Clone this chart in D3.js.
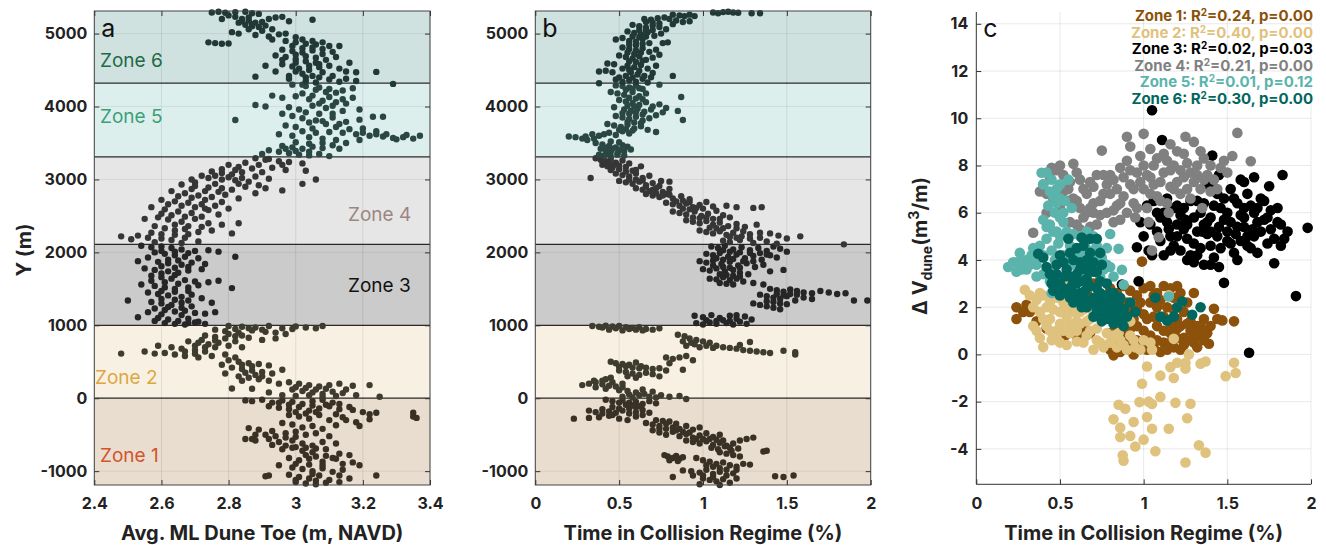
<!DOCTYPE html>
<html>
<head>
<meta charset="utf-8">
<title>Dune toe / collision regime</title>
<script src="https://cdn.jsdelivr.net/npm/d3@7"></script>
<style>
  body { margin: 0; background: #fff; }
  text { font-family: Inter, Helvetica, Arial, sans-serif; }
</style>
</head>
<body>
<svg id="chart" width="1326" height="545"></svg>
<script>
// ---- zones ----
const zoneNames = ["Zone 1", "Zone 2", "Zone 3", "Zone 4", "Zone 5", "Zone 6"];
const zoneEdges = [-1190, 0, 1000, 2110, 3310, 4320, 5310];
const bandColors = ["#e8ddcf", "#f8f1e3", "#cbcbcb", "#e6e6e6", "#dcefed", "#cfe2df"];
const zoneLabelColors = ["#d4532a", "#dca73f", "#111111", "#9c8582", "#3c9f78", "#1d6a47"];
const stripDotColors = ["#3a3126", "#3e3b2f", "#262626", "#363636", "#2b4744", "#213936"];
const scatterColors = ["#8c510a", "#dfc27d", "#000000", "#808080", "#5ab4ac", "#01665e"];

// ---- tick labels ----
const yTicks = [-1000, 0, 1000, 2000, 3000, 4000, 5000];
const toeTicks = [2.4, 2.6, 2.8, 3, 3.2, 3.4];
const collTicks = [0, 0.5, 1, 1.5, 2];
const dvTicks = [-4, -2, 0, 2, 4, 6, 8, 10, 12, 14];

// ---- regression stats (panel c legend) ----
const r2Values = ["0.24", "0.40", "0.02", "0.21", "0.01", "0.30"];
const pValues = ["0.00", "0.00", "0.03", "0.00", "0.12", "0.00"];

// ---- panel a: [avg ML dune toe, Y] ----
const toeZ1 = [[2.85,-30],[2.87,-40],[2.90,-20],[2.93,-60],[2.96,-30],[2.99,-50],[3.02,-80],[3.05,-40],[3.08,-20],[3.11,-60],
 [2.92,-110],[2.95,-130],[2.98,-150],[3.01,-120],[3.04,-170],[3.07,-140],[3.10,-110],[3.13,-150],
 [3.17,-160],[3.20,-190],[3.22,-220],[3.24,-200],[3.35,-200],[3.35,-250],[3.36,-270],
 [2.98,-230],[3.01,-250],[3.04,-280],[3.07,-230],[3.10,-300],[3.14,-260],[3.18,-330],[3.22,-290],[3.19,-380],
 [2.96,-340],[2.99,-360],[3.02,-400],[3.05,-380],[3.08,-420],[3.12,-370],
 [2.86,-410],[2.89,-430],[2.93,-450],[2.97,-480],[3.00,-460],[3.03,-500],[3.06,-480],[3.10,-520],
 [2.85,-560],[2.88,-580],[2.92,-560],[2.95,-600],[2.99,-580],[3.02,-620],[3.05,-650],[3.08,-600],[3.12,-620],
 [2.96,-700],[2.99,-680],[3.02,-720],[3.05,-740],[3.09,-700],[3.13,-760],[3.16,-780],
 [2.98,-820],[3.01,-850],[3.04,-830],[3.08,-870],[3.11,-820],[3.14,-900],[3.17,-880],[3.19,-920],
 [2.95,-920],[2.99,-950],[3.02,-970],[3.05,-1000],[3.08,-960],[3.11,-1010],[3.14,-980],
 [2.92,-1060],[2.98,-1050],[3.01,-1080],[3.04,-1100],[3.07,-1060],[3.10,-1120],[3.24,-1060],
 [3.00,-1150],[3.03,-1170],[3.06,-1180],[3.09,-1160],
 [2.95,-60],[2.98,-90],[3.05,-100],[3.09,-90],[3.13,-80],[3.16,-120],[3.00,-190],[3.03,-210],[3.06,-190],[3.12,-220],[3.15,-300],
 [2.91,-500],[2.94,-520],[2.97,-540],[3.00,-530],[2.88,-500],[2.93,-640],[2.97,-650],[3.00,-670],[3.03,-680],[3.06,-690],
 [3.03,-780],[3.06,-800],[3.09,-790],[3.12,-830],[3.00,-900],[3.04,-910],[3.08,-920],[3.05,-1040],[3.13,-1060],[3.00,-1120],
 [3.06,-1130],[3.16,-1100],[3.13,-1150],[2.91,-1070],[2.87,-560]];
const toeZ2 = [[2.80,990],[2.84,980],[2.88,970],[2.92,990],[2.96,960],[2.99,950],[3.00,985],[3.03,970],[3.06,960],[3.08,990],
 [2.76,940],[2.79,920],[2.83,900],[2.87,930],[2.91,910],[2.94,900],[2.97,880],
 [2.73,860],[2.76,840],[2.79,820],[2.82,850],[2.86,830],[2.90,800],[2.94,820],
 [2.68,780],[2.71,760],[2.74,740],[2.77,760],[2.80,720],[2.84,700],
 [2.63,700],[2.66,680],[2.70,660],[2.73,640],[2.76,700],[2.59,720],[2.55,640],
 [2.48,612],[2.58,612],[2.61,620],[2.64,600],[2.67,580],[2.71,560],[2.75,580],[2.79,600],[2.82,560],
 [2.80,520],[2.83,500],[2.86,480],[2.89,470],[2.92,450],[2.78,460],
 [2.81,420],[2.84,400],[2.87,380],[2.90,360],[2.93,340],[2.96,390],[2.79,340],
 [2.83,300],[2.86,280],[2.89,260],[2.92,240],[2.95,200],[2.81,133],[2.87,130],
 [2.98,220],[3.01,200],[3.04,180],[3.07,160],[3.10,180],[3.13,200],[3.17,170],[3.22,180],
 [2.99,120],[3.02,100],[3.05,80],[3.08,60],[3.11,90],[3.14,70],[3.18,40],[3.25,20],[2.96,40],[3.00,30],
 [2.82,950],[2.86,960],[2.90,940],[2.80,880],[2.84,860],[2.72,800],[2.76,790],[2.82,780],[2.70,720],[2.73,700],[2.67,640],[2.70,610],
 [2.84,460],[2.87,440],[2.85,350],[2.88,320],[2.84,240],[2.90,300],[3.00,150],[3.03,140],[3.06,120],[3.09,130],[3.15,120],
 [3.04,40],[3.08,20],[3.12,30],[2.92,80]];
const toeZ3 = [[2.54,2090],[2.57,2070],[2.60,2080],[2.63,2060],[2.66,2040],[2.70,2020],[2.74,2030],[2.77,2010],
 [2.58,2000],[2.61,1980],[2.64,1960],[2.67,1940],[2.71,1920],[2.82,1940],[2.56,1930],
 [2.53,1880],[2.59,1870],[2.62,1850],[2.66,1830],[2.69,1860],[2.73,1840],
 [2.55,1780],[2.58,1760],[2.62,1740],[2.65,1720],[2.68,1750],[2.72,1770],
 [2.57,1680],[2.60,1660],[2.63,1640],[2.67,1620],[2.70,1600],[2.74,1590],[2.77,1610],
 [2.54,1560],[2.58,1540],[2.61,1520],[2.64,1500],[2.68,1520],[2.81,1510],
 [2.56,1450],[2.59,1430],[2.62,1410],[2.66,1390],[2.69,1420],[2.72,1370],
 [2.50,1340],[2.57,1320],[2.60,1300],[2.63,1280],[2.66,1310],[2.69,1260],
 [2.58,1230],[2.61,1210],[2.64,1190],[2.67,1200],[2.70,1170],[2.73,1160],[2.76,1180],
 [2.53,1110],[2.59,1100],[2.62,1080],[2.65,1060],[2.68,1090],[2.71,1050],
 [2.61,1030],[2.64,1020],[2.67,1010],[2.70,1040],[2.73,1020],
 [2.60,2020],[2.64,2010],[2.68,1990],[2.62,1900],[2.65,1890],[2.60,1810],[2.64,1790],[2.68,1800],[2.60,1710],[2.64,1690],
 [2.57,1610],[2.61,1590],[2.65,1570],[2.71,1550],[2.60,1470],[2.64,1460],[2.68,1470],[2.60,1360],[2.64,1350],[2.68,1340],
 [2.62,1250],[2.66,1240],[2.56,1180],[2.60,1150],[2.66,1140],[2.68,1030],[2.58,1060],[2.75,1310]];
const toeZ4 = [[2.88,3290],[2.91,3270],[2.95,3250],[2.98,3240],[3.02,3220],[2.85,3230],
 [2.80,3200],[2.83,3170],[2.87,3150],[2.93,3160],[2.97,3130],[3.03,3120],
 [2.75,3110],[2.78,3090],[2.81,3070],[2.84,3100],[2.88,3040],[2.72,3050],[2.69,3000],[2.74,3020],[2.78,3000],[2.82,2990],[2.86,2970],[3.06,3000],[3.02,2940],
 [2.66,2930],[2.70,2910],[2.74,2890],[2.78,2880],[2.81,2860],[2.85,2900],[2.89,2920],[2.91,2880],[2.96,2850],
 [2.63,2840],[2.67,2810],[2.71,2780],[2.75,2760],[2.79,2790],[2.83,2740],
 [2.60,2720],[2.64,2700],[2.68,2680],[2.72,2660],[2.76,2640],[2.80,2600],
 [2.57,2620],[2.61,2590],[2.65,2560],[2.69,2540],[2.73,2600],[2.77,2520],[2.55,2460],
 [2.59,2480],[2.62,2450],[2.66,2420],[2.70,2460],[2.74,2400],[2.78,2380],[2.83,2400],
 [2.58,2360],[2.61,2330],[2.64,2300],[2.67,2320],[2.71,2280],[2.75,2300],[2.81,2260],
 [2.53,2230],[2.56,2200],[2.60,2190],[2.63,2170],[2.67,2200],[2.71,2150],[2.48,2220],[2.51,2180],
 [2.92,3280],[2.96,3200],[2.89,3200],[2.78,3140],[2.82,3130],[2.90,3100],[2.76,3050],[2.80,3030],[2.84,3020],[2.92,3010],
 [2.70,2960],[2.76,2940],[2.83,2940],[2.69,2870],[2.73,2840],[2.77,2830],[2.65,2770],[2.69,2750],[2.73,2720],[2.62,2660],
 [2.66,2640],[2.70,2620],[2.74,2580],[2.60,2530],[2.63,2510],[2.67,2490],[2.72,2490],[2.64,2380],[2.68,2360],[2.72,2350],
 [2.57,2270],[2.60,2250],[2.64,2240],[2.68,2250],[2.58,2140],[2.66,2130],[2.78,2690],[2.88,2810]];
const toeZ5 = [[2.99,4300],[3.03,4280],[3.07,4260],[3.10,4240],[3.14,4220],[3.17,4250],[3.12,4190],
 [2.93,4150],[2.96,4120],[3.00,4140],[3.04,4100],[3.08,4080],[3.12,4060],[3.17,4120],
 [2.88,4020],[2.91,4000],[2.98,3990],[3.01,3960],[3.05,4010],[3.09,3980],[3.14,3940],[3.19,3960],
 [2.82,3815],[2.96,3900],[2.99,3870],[3.02,3840],[3.06,3810],[3.11,3850],[3.15,3790],[3.19,3820],[3.23,3860],[3.26,3860],
 [2.97,3740],[3.00,3720],[3.05,3700],[3.09,3760],[3.12,3720],[3.16,3690],[3.20,3700],[3.24,3660],
 [3.14,3640],[3.18,3620],[3.22,3600],[3.26,3590],[3.29,3570],[3.32,3580],[3.35,3560],[3.37,3600],[3.27,3620],[3.30,3550],
 [2.95,3620],[2.99,3600],[3.04,3580],[3.08,3560],[3.12,3540],
 [2.96,3460],[2.99,3440],[3.02,3420],[3.05,3450],[3.08,3430],[3.11,3470],
 [2.92,3400],[2.95,3380],[2.98,3360],[3.01,3340],[3.04,3380],[3.07,3350],[3.10,3320],
 [3.02,4300],[3.06,4230],[3.09,4200],[3.02,4180],[3.05,4150],[3.10,4130],[3.14,4100],[3.07,4040],[3.11,4010],[3.15,4040],
 [3.03,3920],[3.07,3900],[3.11,3900],[3.04,3780],[3.08,3800],[3.13,3760],[3.02,3660],[3.06,3640],[3.10,3650],[3.20,3640],
 [3.24,3620],[3.33,3610],[3.00,3510],[3.04,3490],[3.08,3500],[3.15,3500],[3.19,3540],[2.97,3420],[3.00,3390],[3.13,3420],
 [3.04,3330],[2.90,3350]];
const toeZ6 = [[2.75,5290],[2.77,5300],[2.79,5285],[2.82,5295],[2.85,5300],[2.87,5280],[2.89,5270],
 [2.82,5230],[2.84,5200],[2.86,5180],[2.88,5150],[2.85,5120],[2.87,5100],[2.89,5090],[2.91,5110],[2.83,5150],[2.86,5060],[2.90,5040],[2.92,5200],[2.94,5220],[2.96,5230],[2.98,5170],[3.05,5190],
 [2.81,5020],[2.83,5000],[2.88,4980],[2.92,4960],[2.95,4990],[2.93,4920],
 [2.74,4880],[2.76,4870],[2.78,4860],[2.80,4865],
 [2.97,4900],[3.00,4880],[3.03,4860],[3.06,4850],[3.10,4830],[3.13,4830],
 [2.96,4780],[2.99,4760],[3.02,4740],[3.05,4770],[3.08,4720],[3.11,4750],
 [2.94,4700],[2.97,4680],[3.00,4650],[3.03,4620],[3.06,4600],[3.09,4640],[3.12,4680],
 [2.96,4580],[2.99,4550],[3.01,4520],[3.04,4500],[3.07,4540],[3.02,4450],[3.05,4420],[3.08,4470],[3.15,4480],[3.18,4470],[3.24,4475],
 [2.88,4410],[2.98,4380],[3.03,4350],[3.06,4330],[3.10,4370],[3.13,4340],[3.29,4310],[2.94,4480],[3.00,4600],[2.91,4560],
 [2.84,5170],[2.87,5130],[2.90,5160],[2.86,5220],[2.80,5250],[2.78,5200],[2.93,5060],[2.97,5000],[3.00,4950],[3.02,4920],
 [3.05,4900],[3.08,4880],[2.99,4830],[3.02,4800],[3.05,4810],[3.08,4790],[3.00,4710],[3.03,4690],[3.06,4670],[3.04,4560],
 [3.07,4580],[3.10,4560],[3.00,4480],[3.03,4400],[3.07,4400],[3.11,4420],[2.98,4420],[3.15,4380],[3.18,4350],[3.13,4520],
 [3.16,4600],[2.96,4640]];

// ---- panel b: [time in collision regime %, Y] ----
const collZ1 = [[0.42,-20],[0.46,-40],[0.52,-30],[0.56,-60],[0.60,-50],[0.64,-80],[0.68,-40],[0.72,-70],
 [0.32,-170],[0.36,-190],[0.40,-150],[0.44,-180],[0.48,-200],[0.52,-170],[0.56,-140],[0.60,-120],[0.64,-160],[0.68,-200],
 [0.23,-280],[0.32,-270],[0.38,-260],[0.44,-240],[0.50,-280],[0.55,-300],[0.60,-250],[0.64,-230],
 [0.66,-340],[0.70,-360],[0.74,-380],[0.78,-350],[0.82,-400],[0.86,-420],[0.90,-380],[0.94,-430],[0.98,-400],
 [0.70,-440],[0.74,-470],[0.78,-500],[0.82,-460],[0.86,-520],[0.90,-490],[0.94,-540],[0.98,-510],[1.02,-480],[1.06,-530],[1.10,-500],
 [0.90,-580],[0.94,-600],[0.98,-620],[1.02,-590],[1.06,-640],[1.10,-610],[1.14,-650],[1.18,-620],[1.22,-580],[1.26,-560],[1.30,-540],
 [1.05,-680],[1.09,-700],[1.13,-660],[1.17,-720],[1.21,-690],[1.36,-730],[1.38,-720],
 [0.77,-780],[0.79,-800],[0.82,-820],[0.84,-790],[0.86,-830],[0.88,-810],[0.80,-850],[0.85,-860],
 [0.96,-820],[1.00,-850],[1.04,-870],[1.08,-900],[1.12,-880],[1.16,-920],[1.20,-940],[1.24,-900],[1.28,-910],
 [0.88,-990],[0.93,-1000],[0.98,-1020],[1.02,-980],[1.06,-1040],[1.10,-1010],[1.14,-1060],[1.18,-1030],
 [0.82,-1080],[1.00,-1100],[1.04,-1120],[1.08,-1140],[1.12,-1110],[1.16,-1160],[0.98,-1180],[1.43,-1070],[1.48,-1080],[1.54,-1060],
 [0.50,-60],[0.54,-90],[0.58,-100],[0.62,-110],[0.46,-120],[0.50,-140],[0.40,-210],[0.46,-230],[0.56,-210],[0.60,-190],
 [0.72,-300],[0.76,-310],[0.80,-320],[0.84,-350],[0.74,-420],[0.78,-420],[0.84,-440],[0.88,-460],[0.92,-470],[0.96,-560],
 [1.00,-560],[1.04,-560],[1.08,-570],[1.12,-580],[1.16,-680],[1.10,-740],[1.14,-760],[1.18,-780],[1.22,-800],[1.02,-920],
 [1.06,-940],[1.10,-960],[1.14,-980],[1.20,-980],[0.94,-1060],[1.00,-1060],[1.06,-1080],[1.20,-1100],[1.10,-1190]];
const collZ2 = [[0.34,990],[0.38,980],[0.42,995],[0.46,985],[0.50,990],[0.54,975],[0.58,965],[0.62,975],[0.66,950],[0.70,940],[0.74,960],[0.44,940],[0.52,930],
 [0.85,870],[0.89,850],[0.92,820],[0.96,800],[1.00,780],[1.04,760],[0.88,780],[0.93,760],
 [1.08,720],[1.12,700],[1.16,690],[1.20,680],[1.24,660],[1.28,650],[1.32,640],[1.36,630],[1.40,620],[1.48,650],[1.55,630],[1.55,600],[1.28,770],[1.22,730],
 [0.78,560],[0.82,540],[0.86,560],[0.90,580],[0.94,520],[0.88,390],
 [0.45,500],[0.48,480],[0.52,470],[0.56,460],[0.60,490],[0.63,440],[0.66,420],[0.70,400],[0.74,410],[0.78,380],
 [0.50,380],[0.54,360],[0.58,340],[0.62,320],[0.66,350],[0.70,330],[0.74,300],
 [0.28,180],[0.32,200],[0.36,220],[0.40,190],[0.44,170],[0.48,160],[0.52,150],[0.35,240],[0.42,260],
 [0.50,110],[0.55,100],[0.60,80],[0.65,60],[0.70,90],[0.75,40],[0.80,20],[0.86,30],[0.90,-10],[0.52,20],[0.58,10],
 [0.40,970],[0.48,960],[0.56,950],[0.60,940],[0.64,930],[0.90,720],[0.95,740],[0.98,700],[1.02,720],[1.06,690],
 [0.50,430],[0.54,440],[0.58,420],[0.62,410],[0.55,300],[0.60,280],[0.45,280],[0.40,240],[0.46,220],[0.52,200],
 [0.36,150],[0.42,130],[0.56,50],[0.62,40],[0.68,20],[0.72,10],[0.64,120],[0.80,480]];
const collZ3 = [[1.05,2080],[1.09,2060],[1.13,2090],[1.18,2040],[1.23,2070],[1.28,2030],[1.33,2060],[1.38,2020],[1.42,2080],[1.46,2050],[1.50,2010],
 [1.02,1980],[1.06,1960],[1.10,1990],[1.15,1940],[1.20,1970],[1.25,1920],[1.30,1950],[1.35,1900],[1.40,1960],[1.44,1930],
 [0.98,1880],[1.02,1860],[1.06,1890],[1.11,1840],[1.16,1870],[1.21,1820],[1.26,1850],[1.31,1800],[1.36,1830],
 [1.00,1770],[1.04,1750],[1.08,1780],[1.13,1740],[1.18,1760],[1.22,1720],[1.27,1700],[1.40,1740],[1.48,1760],
 [1.04,1640],[1.08,1630],[1.12,1660],[1.16,1620],[1.20,1640],[1.24,1600],[1.30,1580],[1.36,1560],
 [1.40,1500],[1.44,1480],[1.48,1460],[1.52,1490],[1.56,1470],[1.60,1450],[1.65,1440],[1.70,1470],[1.75,1450],[1.80,1430],[1.85,1440],
 [1.34,1420],[1.38,1400],[1.42,1380],[1.46,1360],[1.50,1400],[1.55,1340],[1.60,1380],[1.65,1360],[1.90,1340],[1.98,1340],
 [1.30,1300],[1.34,1280],[1.38,1260],[1.42,1240],[1.46,1220],
 [0.95,1130],[1.00,1110],[1.05,1140],[1.10,1100],[1.16,1130],[1.20,1090],[1.25,1120],[1.29,1080],
 [0.96,1030],[1.00,1010],[1.04,1040],[1.08,1020],[1.14,1030],[1.18,1010],[1.22,1050],[1.26,1020],
 [1.12,2030],[1.16,2010],[1.22,2000],[1.28,1990],[1.34,1990],[1.38,1970],[1.08,1920],[1.12,1900],[1.18,1910],[1.24,1880],
 [1.30,1880],[1.06,1820],[1.12,1800],[1.16,1790],[1.22,1790],[1.10,1700],[1.14,1690],[1.18,1680],[1.22,1670],[1.10,1580],
 [1.14,1570],[1.18,1560],[1.44,1430],[1.48,1410],[1.52,1430],[1.56,1420],[1.38,1330],[1.42,1320],[1.46,1300],[1.50,1290],
 [1.02,1070],[1.08,1060],[1.12,1070],[1.16,1060],[1.20,1140]];
const collZ4 = [[0.36,3290],[0.39,3270],[0.42,3250],[0.45,3280],[0.48,3230],[0.52,3260],[0.56,3220],
 [0.40,3200],[0.43,3180],[0.46,3160],[0.50,3140],[0.54,3170],[0.58,3120],[0.63,3180],
 [0.33,3020],[0.48,3080],[0.52,3060],[0.56,3040],[0.60,3080],[0.64,3020],[0.68,3050],
 [0.50,2980],[0.54,2960],[0.58,2940],[0.62,2970],[0.66,2920],[0.70,2950],[0.75,2980],[0.80,2970],
 [0.60,2880],[0.64,2860],[0.68,2840],[0.72,2880],[0.76,2830],[0.80,2870],
 [0.66,2800],[0.70,2780],[0.74,2760],[0.78,2800],[0.82,2740],[0.87,2770],[0.92,2730],
 [0.78,2680],[0.82,2660],[0.86,2640],[0.90,2670],[0.94,2620],[0.98,2650],[1.02,2690],[1.06,2630],[1.14,2640],[1.20,2620],[1.35,2620],[1.30,2610],
 [0.82,2560],[0.86,2540],[0.90,2520],[0.95,2560],[0.99,2500],[1.03,2530],[1.08,2570],[1.12,2510],[1.16,2480],
 [0.90,2440],[0.94,2420],[0.98,2400],[1.02,2430],[1.06,2380],[1.10,2410],[1.15,2360],[1.20,2390],[1.25,2350],[1.32,2380],
 [0.98,2300],[1.02,2280],[1.06,2260],[1.10,2290],[1.14,2240],[1.18,2270],[1.23,2220],[1.28,2250],[1.34,2200],[1.40,2260],[1.45,2230],[1.50,2190],[1.58,2220],
 [1.12,2160],[1.16,2140],[1.22,2170],[1.30,2130],[1.38,2150],[1.44,2120],[1.84,2110],
 [0.40,3250],[0.44,3230],[0.47,3200],[0.50,3190],[0.45,3130],[0.54,3110],[0.60,3130],[0.56,3000],[0.60,3000],[0.64,2990],
 [0.66,2900],[0.70,2860],[0.74,2910],[0.72,2810],[0.76,2780],[0.80,2790],[0.84,2700],[0.88,2710],[0.92,2690],[0.88,2600],
 [0.92,2590],[0.96,2610],[1.00,2600],[0.94,2480],[0.98,2470],[1.02,2480],[1.06,2460],[1.10,2460],[1.04,2340],[1.08,2330],
 [1.12,2330],[1.20,2330],[1.24,2290],[1.16,2210],[1.20,2200],[1.28,2190],[1.34,2270]];
const collZ5 = [[0.48,4290],[0.52,4280],[0.56,4260],[0.60,4290],[0.64,4240],[0.74,4300],
 [0.45,4200],[0.49,4180],[0.53,4160],[0.58,4200],[0.62,4140],[0.66,4180],[0.87,4130],
 [0.50,4090],[0.54,4070],[0.58,4050],[0.62,4020],[0.66,4060],[0.70,4000],[0.74,4030],
 [0.47,3990],[0.53,3960],[0.57,3940],[0.61,3970],[0.65,3930],[0.69,3960],[0.78,3980],[0.85,3940],
 [0.48,3870],[0.52,3850],[0.56,3830],[0.60,3860],[0.64,3810],[0.68,3840],[0.88,3815],
 [0.43,3760],[0.47,3740],[0.51,3720],[0.55,3750],[0.59,3700],[0.63,3730],[0.67,3680],[0.72,3650],
 [0.20,3590],[0.24,3580],[0.28,3560],[0.31,3540],[0.35,3560],[0.38,3600],[0.41,3620],[0.44,3640],[0.48,3610],[0.52,3660],[0.56,3630],
 [0.36,3500],[0.40,3480],[0.44,3460],[0.48,3440],[0.52,3470],[0.55,3450],
 [0.39,3420],[0.42,3400],[0.45,3380],[0.49,3360],[0.53,3390],[0.57,3410],
 [0.38,3340],[0.41,3330],[0.45,3320],[0.49,3340],
 [0.54,4230],[0.58,4240],[0.62,4250],[0.56,4120],[0.60,4110],[0.64,4100],[0.55,4010],[0.59,4000],[0.52,3910],[0.56,3900],
 [0.60,3920],[0.64,3890],[0.55,3790],[0.59,3780],[0.63,3770],[0.50,3680],[0.54,3690],[0.58,3670],[0.30,3590],[0.34,3620],
 [0.45,3520],[0.50,3510],[0.41,3440],[0.46,3420],[0.50,3400],[0.44,3350],[0.53,3330],[0.72,3880],[0.76,3920]];
const collZ6 = [[1.06,5290],[1.09,5280],[1.12,5295],[1.15,5300],[1.18,5290],[1.21,5285],[1.29,5280],[1.34,5280],
 [0.82,5260],[0.86,5250],[0.89,5240],[0.92,5260],[0.95,5240],
 [0.65,5200],[0.69,5190],[0.73,5210],[0.77,5220],[0.80,5200],[0.84,5180],[0.88,5160],[0.92,5170],
 [0.58,5120],[0.62,5100],[0.66,5080],[0.70,5110],[0.74,5090],[0.78,5060],[0.82,5130],
 [0.55,5030],[0.59,5010],[0.63,4990],[0.67,5020],[0.71,4970],[0.75,5000],
 [0.48,4920],[0.52,4940],[0.56,4900],[0.60,4890],[0.64,4930],[0.68,4870],[0.76,4870],[0.79,4880],
 [0.52,4810],[0.56,4790],[0.60,4770],[0.64,4800],[0.68,4750],[0.72,4780],
 [0.50,4700],[0.54,4680],[0.58,4660],[0.62,4690],[0.66,4640],[0.70,4670],[0.74,4710],
 [0.43,4590],[0.47,4580],[0.55,4560],[0.59,4540],[0.63,4570],[0.67,4520],
 [0.38,4480],[0.42,4490],[0.46,4470],[0.57,4470],[0.61,4440],[0.65,4420],[0.69,4400],[0.82,4420],
 [0.38,4320],[0.56,4360],[0.60,4340],[0.64,4380],[0.67,4330],
 [0.66,5160],[0.70,5150],[0.74,5140],[0.62,5050],[0.66,5040],[0.70,5050],[0.58,4960],[0.62,4950],[0.66,4960],[0.56,4850],
 [0.60,4840],[0.64,4860],[0.55,4740],[0.59,4720],[0.63,4740],[0.56,4620],[0.60,4610],[0.64,4630],[0.52,4520],[0.56,4500],
 [0.62,4490],[0.50,4400],[0.54,4420],[0.58,4400],[0.52,4340],[0.48,4370],[0.70,4460],[0.72,4560]];

// ---- panel c: [time in collision regime %, dV dune m3/m] ----
const dvZ1 = [[0.24,2.0],[0.24,1.5],[0.30,2.1],[0.32,1.8],[0.50,1.0],[0.53,0.8],[0.56,1.8],[0.62,2.3],[0.66,2.6],[0.70,3.0],[0.74,3.2],
 [0.80,2.8],[0.84,2.6],[0.88,2.9],[0.92,2.7],[0.96,2.5],[1.00,2.8],[1.04,2.9],[1.08,2.6],[1.12,2.9],[1.16,2.8],[1.20,2.9],
 [0.80,2.0],[0.84,1.8],[0.88,1.6],[0.92,2.1],[0.96,1.9],[1.00,1.7],[1.04,2.2],[1.08,2.0],[1.12,1.6],[1.16,1.3],
 [0.80,0.9],[0.84,1.2],[0.88,0.8],[0.92,1.1],[0.96,0.6],[1.00,1.0],[1.04,0.8],[1.08,1.2],[1.12,0.5],[1.16,0.9],[1.20,1.1],[1.24,0.7],[1.28,1.0],[1.32,0.8],[1.36,0.6],
 [0.80,0.2],[0.82,-0.04],[0.86,0.1],[0.90,0.3],[0.94,0.0],[0.98,0.4],[1.02,0.2],[1.06,0.3],[1.10,0.1],[1.14,0.2],[1.18,0.3],[1.22,0.2],[1.30,0.5],[1.39,0.45],
 [1.20,1.5],[1.24,1.8],[1.28,1.4],[1.32,1.2],[1.36,1.5],[1.42,1.93],[1.47,1.44],[1.54,1.4],[1.40,1.2],[1.44,1.5],
 [0.99,3.93],[0.90,2.2],[0.76,1.7],[0.72,2.3],[1.06,2.5],
 [0.82,2.3],[0.86,2.0],[0.90,1.8],[0.94,1.5],[0.98,2.2],[1.02,1.5],[1.06,1.6],[1.10,2.3],[1.14,2.0],[1.18,1.9],
 [1.22,1.2],[1.26,1.3],[1.30,1.0],[1.34,1.2],[1.38,0.9],[0.84,0.6],[0.88,0.4],[0.92,0.5],[0.96,1.2],[1.00,0.3],
 [1.04,0.5],[1.08,0.6],[1.12,1.0],[1.16,0.5],[1.20,0.7],[1.24,0.4],[1.28,0.6],[1.32,0.3],[1.36,1.0],[1.26,2.2],
 [1.30,2.6],[1.22,2.6],[1.18,2.4],[0.28,1.8],[0.36,1.4],[0.42,1.1],[0.46,0.9],[0.60,0.8],[0.64,1.1],[0.68,0.9]];
const dvZ2 = [[0.29,2.74],[0.34,1.2],[0.36,2.3],[0.40,0.31],[0.42,2.0],[0.44,1.5],[0.46,2.6],[0.48,1.0],[0.50,0.5],[0.52,2.2],[0.54,1.6],[0.56,0.9],[0.58,2.4],[0.60,0.55],[0.62,1.3],[0.64,1.9],[0.66,0.8],[0.68,1.5],[0.70,0.2],[0.72,1.1],[0.74,0.5],[0.76,1.7],[0.38,1.8],[0.45,0.6],[0.55,2.9],[0.40,2.5],[0.50,1.8],[0.60,1.4],[0.66,2.2],
 [0.80,0.5],[0.84,0.3],[0.88,0.4],[0.92,0.8],[0.95,0.3],[1.00,0.6],[0.85,0.9],[1.18,0.66],[1.15,2.5],[0.92,1.4],[1.05,0.2],
 [0.85,-2.13],[0.89,-2.3],[0.82,-2.75],[0.86,-3.1],[0.94,-2.86],[0.86,-3.5],[0.92,-3.45],[0.875,-4.27],[0.88,-4.5],[0.95,-3.9],
 [0.975,-2.02],[1.03,-2.0],[1.05,-2.1],[1.0,-3.61],[1.02,-2.65],[1.05,-3.15],[1.07,-4.1],[1.10,-1.8],[1.15,-3.15],[1.19,-2.05],
 [1.28,-2.09],[1.26,-2.7],[1.25,-4.58],[1.33,-3.85],[1.37,-4.16],[0.99,-1.24],[1.02,-0.51],[1.10,-0.9],[1.16,-0.54],[1.18,-1.0],
 [1.20,-0.35],[1.25,-0.35],[1.25,-0.6],[1.27,0.0],[1.34,-0.39],[1.37,-0.3],[1.49,-0.92],[1.55,-0.79],[1.54,-0.35],
 [0.32,2.5],[0.34,2.0],[0.38,2.6],[0.40,1.5],[0.42,1.2],[0.44,2.2],[0.46,1.9],[0.48,2.4],[0.50,1.3],[0.52,1.0],
 [0.54,2.0],[0.56,1.3],[0.58,1.8],[0.60,1.0],[0.62,1.8],[0.64,0.5],[0.66,1.4],[0.68,1.0],[0.70,1.8],[0.72,0.6],
 [0.76,0.3],[0.78,0.9],[0.82,0.8],[0.86,0.6],[0.90,0.2],[0.94,0.6],[0.98,0.2],[1.04,0.5],[0.48,0.7],[0.54,0.4],
 [0.44,1.0],[0.36,1.0],[0.38,0.7]];
const dvZ3 = [[0.96,4.54],[0.97,3.1],[0.87,2.96],[1.03,4.4],[1.05,4.2],[1.00,5.0],[1.04,5.5],[1.08,5.2],[1.10,4.8],[1.12,6.0],[1.14,5.6],[1.16,5.0],[1.18,4.6],[1.20,6.3],[1.22,5.9],[1.24,5.3],[1.26,4.9],[1.28,4.2],[1.30,3.9],
 [1.32,6.5],[1.34,6.0],[1.36,5.5],[1.38,5.1],[1.40,4.6],[1.42,4.1],[1.44,6.8],[1.46,6.2],[1.48,5.7],[1.50,5.2],[1.52,4.7],[1.54,4.3],[1.56,6.4],[1.58,5.9],[1.60,5.4],[1.62,5.0],[1.64,4.5],
 [1.66,6.0],[1.68,5.6],[1.70,5.2],[1.72,6.5],[1.74,5.8],[1.76,5.3],[1.78,4.9],[1.80,6.2],[1.82,5.5],[1.84,4.9],[1.78,3.86],[1.48,3.03],[1.91,2.47],[1.98,5.36],[1.63,0.07],
 [1.83,7.6],[1.75,7.12],[1.41,8.42],[1.11,9.08],[1.05,10.34],[1.36,3.8],[1.45,3.7],
 [1.15,5.3],[1.25,5.7],[1.35,5.2],[1.45,5.4],[1.55,5.1],[1.65,5.3],[1.20,5.5],[1.30,4.7],[1.40,5.8],[1.50,6.0],[1.60,6.2],[1.10,5.8],[1.52,7.0],[1.58,7.4],[1.45,7.6],[1.62,6.8],[1.70,6.6],[1.38,7.2],[0.98,5.6],[1.22,4.4],
 [1.02,6.3],[1.06,6.5],[1.08,6.0],[1.14,6.6],[1.18,6.2],[1.20,5.0],[1.24,6.2],[1.26,5.5],[1.28,6.5],[1.30,5.8],
 [1.32,5.2],[1.34,4.5],[1.36,6.4],[1.38,5.6],[1.40,5.2],[1.42,6.3],[1.44,5.0],[1.46,4.5],[1.48,6.6],[1.50,4.8],
 [1.52,5.6],[1.54,6.6],[1.56,5.4],[1.58,4.8],[1.60,5.8],[1.62,4.6],[1.64,6.3],[1.66,5.0],[1.68,6.2],[1.72,5.7],
 [1.74,4.7],[1.76,6.1],[1.80,5.6],[1.82,4.6],[1.86,5.2],[1.60,7.3],[1.66,7.5],[1.42,7.0],[1.32,4.2],[1.26,4.0],
 [1.16,4.4],[1.12,4.2],[1.40,3.8],[1.56,4.0],[1.68,4.3]];
const dvZ4 = [[0.34,5.15],[0.38,6.9],[0.40,7.2],[0.44,7.5],[0.48,7.8],[0.52,7.6],[0.58,8.07],[0.55,7.0],[0.60,6.5],[0.62,7.4],[0.64,5.8],[0.66,6.8],[0.68,6.2],[0.70,7.1],[0.72,5.5],[0.74,6.5],[0.75,8.63],[0.76,7.6],[0.78,6.0],
 [0.80,6.8],[0.82,7.4],[0.84,6.3],[0.86,7.9],[0.88,6.7],[0.90,9.22],[0.90,8.2],[0.92,7.2],[0.94,6.4],[0.96,7.7],[0.98,8.4],[1.00,9.34],[1.00,7.0],[1.02,6.2],[1.04,7.5],[1.05,4.4],[1.06,8.0],[1.08,6.7],[1.09,4.96],
 [1.10,7.3],[1.12,8.5],[1.14,6.4],[1.16,7.8],[1.18,7.0],[1.20,8.6],[1.22,6.8],[1.25,9.22],[1.24,7.5],[1.26,8.1],[1.28,6.6],[1.30,9.0],[1.30,7.3],[1.32,8.0],[1.34,7.0],[1.36,8.3],[1.38,7.6],[1.40,6.9],[1.42,7.4],
 [1.46,7.9],[1.50,7.7],[1.53,8.4],[1.56,9.38],[1.64,8.18],[0.50,6.2],[0.56,5.6],[0.62,5.3],[0.46,6.6],[0.42,6.0],[0.95,5.8],[1.03,5.6],[0.86,5.7],[0.55,6.5],[0.70,6.0],[0.78,7.2],[1.15,6.0],[1.35,6.2],
 [0.42,6.8],[0.45,7.9],[0.50,8.0],[0.52,6.9],[0.56,7.3],[0.58,6.6],[0.60,7.7],[0.62,6.2],[0.64,7.0],[0.66,6.0],
 [0.68,7.3],[0.70,6.4],[0.72,7.6],[0.74,5.9],[0.76,6.8],[0.80,7.6],[0.82,6.1],[0.84,7.0],[0.86,6.4],[0.88,7.5],
 [0.90,6.0],[0.92,7.8],[0.94,7.0],[0.96,6.2],[0.98,7.3],[1.00,8.0],[1.02,7.6],[1.04,6.8],[1.06,7.2],[1.08,8.3],
 [1.10,6.5],[1.12,7.7],[1.14,8.2],[1.16,7.1],[1.18,8.0],[1.20,7.3],[1.22,7.8],[1.24,8.5],[1.26,7.0],[1.28,7.7],
 [1.32,7.6],[1.34,8.6],[1.36,7.4],[1.40,8.0],[1.44,7.0],[1.48,8.2],[0.92,8.8],[1.04,8.7],[1.16,8.9],[0.60,5.5],
 [0.68,5.4],[0.82,5.6]];
const dvZ5 = [[0.19,3.7],[0.24,3.9],[0.27,3.6],[0.30,4.0],[0.33,4.2],[0.36,3.8],[0.39,7.69],[0.42,7.7],[0.45,7.4],[0.48,7.0],[0.50,7.2],[0.46,6.7],[0.43,6.3],[0.47,6.0],[0.50,5.8],[0.44,5.5],[0.48,5.2],[0.52,5.6],[0.53,6.5],
 [0.40,5.7],[0.38,4.6],[0.42,4.9],[0.45,4.4],[0.49,4.7],[0.52,4.2],[0.56,4.6],[0.60,4.3],[0.62,5.0],[0.65,4.6],[0.68,4.2],[0.72,4.6],[0.75,4.1],[0.78,4.5],[0.80,5.1],[0.85,4.47],[0.87,3.58],
 [0.70,3.7],[0.74,3.3],[0.78,3.8],[0.82,3.3],[0.40,3.4],[0.44,3.1],[0.48,2.8],[0.45,2.6],[0.36,3.3],[0.30,3.6],[0.55,7.4],[0.57,6.2],[1.15,2.45],[0.26,4.3],[0.34,4.5],[0.58,3.8],[0.63,3.5],[0.88,2.95],
 [0.40,7.2],[0.44,6.9],[0.48,6.4],[0.50,6.6],[0.52,6.0],[0.46,5.2],[0.42,5.4],[0.50,5.0],[0.54,5.2],[0.40,4.2],
 [0.36,4.1],[0.32,3.8],[0.28,3.9],[0.22,3.9],[0.24,3.5],[0.47,4.0],[0.54,3.9],[0.58,4.4],[0.64,4.2],[0.70,4.4],
 [0.72,4.0],[0.76,3.6],[0.80,3.7],[0.66,5.2],[0.70,5.0],[0.58,5.1],[0.45,3.5],[0.50,3.3]];
const dvZ6 = [[0.37,4.26],[0.42,3.7],[0.45,3.0],[0.48,3.4],[0.50,4.2],[0.52,2.8],[0.54,3.6],[0.55,4.9],[0.56,2.4],[0.58,3.1],[0.60,4.5],[0.62,2.6],[0.63,4.95],[0.64,3.8],[0.66,3.2],[0.68,4.9],[0.68,4.3],[0.68,2.2],
 [0.70,3.5],[0.72,2.8],[0.72,3.5],[0.74,1.8],[0.75,1.4],[0.76,2.5],[0.78,3.0],[0.80,2.0],[0.82,2.6],[0.84,1.7],[0.85,2.1],[0.86,2.4],[0.88,1.2],[0.90,1.6],[0.46,2.7],[0.50,3.0],[0.53,3.3],[0.57,2.9],
 [0.60,3.4],[0.63,2.0],[0.65,2.7],[0.70,1.6],[0.73,2.2],[0.78,1.5],[0.82,1.3],[0.58,2.2],[0.62,3.9],[0.66,4.0],[0.75,3.8],[1.07,2.4],[1.14,1.44],[1.18,1.6],[1.20,2.0],[1.23,2.24],[1.29,1.68],[1.34,2.0],
 [1.10,1.6],[0.92,2.2],[0.95,1.8],
 [0.48,3.8],[0.50,2.5],[0.52,3.9],[0.54,2.6],[0.56,3.3],[0.58,4.0],[0.58,2.6],[0.60,3.0],[0.60,2.3],[0.62,3.6],
 [0.64,2.4],[0.64,3.1],[0.66,2.0],[0.66,3.6],[0.68,2.9],[0.70,2.4],[0.70,3.9],[0.72,1.9],[0.74,2.6],[0.74,3.1],
 [0.76,2.0],[0.76,1.7],[0.78,2.3],[0.80,1.6],[0.80,2.6],[0.82,1.9],[0.84,2.3],[0.86,1.5],[0.88,1.9],[0.56,4.3],
 [0.44,3.4],[0.46,3.1],[0.40,4.1],[0.74,4.3],[0.64,4.6],[0.72,4.9]];

const toeZones = [toeZ1, toeZ2, toeZ3, toeZ4, toeZ5, toeZ6];
const collZones = [collZ1, collZ2, collZ3, collZ4, collZ5, collZ6];
const dvZones = [dvZ1, dvZ2, dvZ3, dvZ4, dvZ5, dvZ6];

const svg = d3.select("#chart");
const tickFont = "16px";
const titleFont = "20px";
const plotTop = 11, plotBottom = 485;

var yScale = d3.scaleLinear().domain([-1190, 5310]).range([plotBottom, plotTop]);

function styleAxis(g) {
    g.select(".domain").remove();
    g.selectAll(".tick line").attr("stroke", "#333");
    g.selectAll(".tick text").attr("fill", "#222").style("font-size", tickFont).style("font-weight", "bold");
}

function stripPanel(xDomain, xLeft, xRight, xTicks, zones, letter, title, zoneLabels) {
    var x = d3.scaleLinear().domain(xDomain).range([xLeft, xRight]);
    var g = svg.append("g");

    // zone bands
    g.selectAll("rect.band").data(bandColors).enter().append("rect")
        .attr("x", xLeft).attr("width", xRight - xLeft)
        .attr("y", (d, i) => yScale(zoneEdges[i + 1]))
        .attr("height", (d, i) => yScale(zoneEdges[i]) - yScale(zoneEdges[i + 1]))
        .attr("fill", d => d);

    // grid
    g.selectAll("line.vg").data(xTicks).enter().append("line")
        .attr("x1", d => x(d)).attr("x2", d => x(d)).attr("y1", plotTop).attr("y2", plotBottom)
        .attr("stroke", "#000").attr("stroke-opacity", 0.09);
    g.selectAll("line.hg").data(yTicks).enter().append("line")
        .attr("x1", xLeft).attr("x2", xRight).attr("y1", d => yScale(d)).attr("y2", d => yScale(d))
        .attr("stroke", "#000").attr("stroke-opacity", 0.07);

    // zone boundaries
    g.selectAll("line.edge").data(zoneEdges.slice(1, 6)).enter().append("line")
        .attr("x1", xLeft).attr("x2", xRight).attr("y1", d => yScale(d)).attr("y2", d => yScale(d))
        .attr("stroke", "#2a2a2a").attr("stroke-width", 1.3);

    if (zoneLabels) {
        const lx = [100, 95, 348, 348, 100, 100];
        const labelY = [-880, 200, 1450, 2425, 3775, 4545];
        zoneNames.forEach(function (z, i) {
            g.append("text").attr("x", lx[i]).attr("y", yScale(labelY[i]))
                .attr("fill", zoneLabelColors[i]).style("font-size", "19px").text(z);
        });
    }

    // points
    zones.forEach(function (pts, i) {
        g.append("g").selectAll("circle").data(pts).enter().append("circle")
            .attr("cx", d => x(d[0])).attr("cy", d => yScale(d[1])).attr("r", 3.2)
            .attr("fill", stripDotColors[i]);
    });

    // box
    g.append("rect").attr("x", xLeft).attr("y", plotTop).attr("width", xRight - xLeft).attr("height", plotBottom - plotTop)
        .attr("fill", "none").attr("stroke", "#444").attr("stroke-width", 1);

    // axes, ticks inward
    g.append("g").attr("transform", "translate(0," + plotBottom + ")")
        .call(d3.axisBottom(x).tickValues(xTicks).tickFormat(d => String(d)).tickSizeInner(-5).tickSizeOuter(0).tickPadding(13))
        .call(styleAxis);
    g.append("g").attr("transform", "translate(0," + plotTop + ")")
        .call(d3.axisTop(x).tickValues(xTicks).tickFormat("").tickSizeInner(-5).tickSizeOuter(0))
        .call(styleAxis);
    g.append("g").attr("transform", "translate(" + xLeft + ",0)")
        .call(d3.axisLeft(yScale).tickValues(yTicks).tickFormat(d => String(d)).tickSizeInner(-5).tickSizeOuter(0).tickPadding(7))
        .call(styleAxis);
    g.append("g").attr("transform", "translate(" + xRight + ",0)")
        .call(d3.axisRight(yScale).tickValues(yTicks).tickFormat("").tickSizeInner(-5).tickSizeOuter(0))
        .call(styleAxis);

    g.append("text").attr("x", xLeft + 7).attr("y", 37).style("font-size", "25px").attr("fill", "#111").text(letter);
    g.append("text").attr("x", (xLeft + xRight) / 2).attr("y", 540).attr("text-anchor", "middle")
        .style("font-size", titleFont).style("font-weight", "bold").attr("fill", "#222").text(title);
}

stripPanel([2.4, 3.4], 94.3, 430, toeTicks, toeZones, "a", "Avg. ML Dune Toe (m, NAVD)", true);
stripPanel([0, 2], 535.3, 870.7, collTicks, collZones, "b", "Time in Collision Regime (%)", false);

svg.append("text").attr("transform", "translate(31,250)rotate(-90)").attr("text-anchor", "middle")
    .style("font-size", titleFont).style("font-weight", "bold").attr("fill", "#222").text("Y (m)");

// ---- panel c ----
(function () {
    var xL = 976.3, xR = 1311, yB = 484.3, yT = 12;
    var x = d3.scaleLinear().domain([0, 2]).range([xL, xR]);
    var y = d3.scaleLinear().domain([-5.5, 14.5]).range([yB, yT]);
    var g = svg.append("g");

    g.selectAll("line.vg").data(collTicks.slice(1)).enter().append("line")
        .attr("x1", d => x(d)).attr("x2", d => x(d)).attr("y1", yT).attr("y2", yB)
        .attr("stroke", "#000").attr("stroke-opacity", 0.09);
    g.selectAll("line.hg").data(dvTicks).enter().append("line")
        .attr("x1", xL).attr("x2", xR).attr("y1", d => y(d)).attr("y2", d => y(d))
        .attr("stroke", "#000").attr("stroke-opacity", 0.09);

    dvZones.forEach(function (pts, i) {
        g.append("g").selectAll("circle").data(pts).enter().append("circle")
            .attr("cx", d => x(d[0])).attr("cy", d => y(d[1])).attr("r", 5.3)
            .attr("fill", scatterColors[i]);
    });

    g.append("line").attr("x1", xL).attr("x2", xL).attr("y1", yT).attr("y2", yB).attr("stroke", "#333");
    g.append("line").attr("x1", xL).attr("x2", xR).attr("y1", yB).attr("y2", yB).attr("stroke", "#333");

    g.append("g").attr("transform", "translate(0," + yB + ")")
        .call(d3.axisBottom(x).tickValues(collTicks).tickFormat(d => String(d)).tickSizeInner(-5).tickSizeOuter(0).tickPadding(13))
        .call(styleAxis);
    g.append("g").attr("transform", "translate(" + xL + ",0)")
        .call(d3.axisLeft(y).tickValues(dvTicks).tickFormat(d => String(d)).tickSizeInner(-5).tickSizeOuter(0).tickPadding(8))
        .call(styleAxis);

    g.append("text").attr("x", xL + 7).attr("y", 37).style("font-size", "25px").attr("fill", "#111").text("c");
    g.append("text").attr("x", (xL + xR) / 2).attr("y", 540).attr("text-anchor", "middle")
        .style("font-size", titleFont).style("font-weight", "bold").attr("fill", "#222").text("Time in Collision Regime (%)");

    // y label with sub/superscripts
    var yl = svg.append("text").attr("transform", "translate(927,246)rotate(-90)").attr("text-anchor", "middle")
        .style("font-size", "20px").style("font-weight", "bold").attr("fill", "#222");
    yl.append("tspan").text("\u0394 V");
    yl.append("tspan").attr("dy", 5).style("font-size", "14px").text("dune");
    yl.append("tspan").attr("dy", -5).text("(m");
    yl.append("tspan").attr("dy", -8).style("font-size", "14px").text("3");
    yl.append("tspan").attr("dy", 8).text("/m)");

    // legend
    zoneNames.forEach(function (z, i) {
        var t = svg.append("text").attr("x", 1313).attr("y", 21 + i * 16.6).attr("text-anchor", "end")
            .style("font-size", "15px").style("font-weight", "bold").attr("fill", scatterColors[i]);
        t.append("tspan").text(z + ": R");
        t.append("tspan").attr("dy", -5).style("font-size", "10px").text("2");
        t.append("tspan").attr("dy", 5).text("=" + r2Values[i] + ", p=" + pValues[i]);
    });
})();
</script>
</body>
</html>
